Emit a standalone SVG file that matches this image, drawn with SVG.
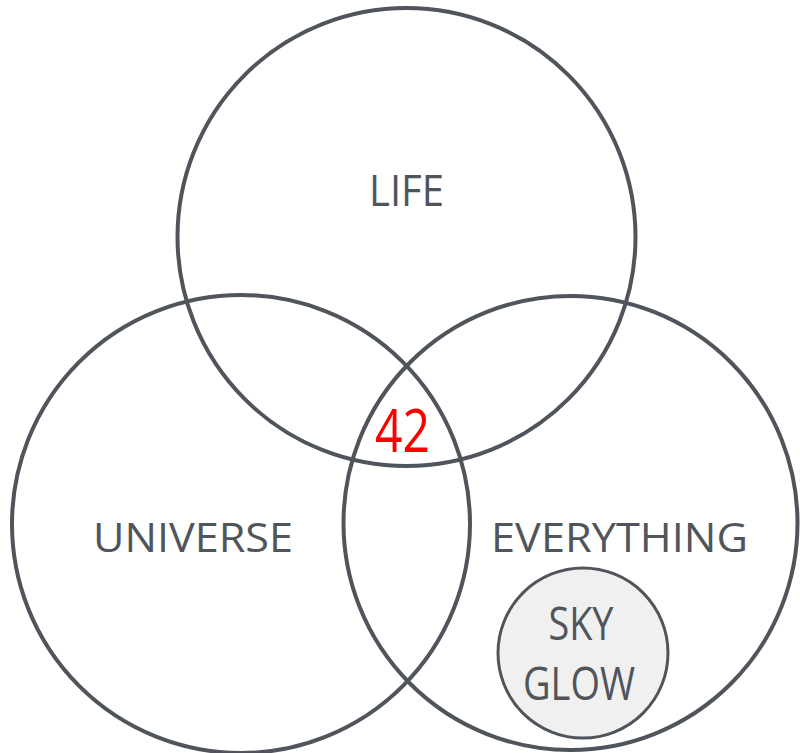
<svg xmlns="http://www.w3.org/2000/svg" width="800" height="753" viewBox="0 0 800 753">
<style>
.set{fill:none;stroke:#50555c;stroke-width:4}
.lbl{font-family:"Open Sans","Liberation Sans",sans-serif;fill:#50555c;text-anchor:middle}
</style>
<rect width="800" height="753" fill="#ffffff"/>
<g id="life"><circle class="set" cx="406.5" cy="237" r="229"/><text class="lbl" x="406.5" y="206" font-size="43" textLength="75" lengthAdjust="spacingAndGlyphs">LIFE</text></g>
<g id="universe"><circle class="set" cx="241" cy="524" r="229"/><text class="lbl" x="193" y="552" font-size="41" textLength="200" lengthAdjust="spacingAndGlyphs">UNIVERSE</text></g>
<g id="everything"><circle class="set" cx="570.5" cy="523" r="227"/><text class="lbl" x="619.5" y="552" font-size="41" textLength="257" lengthAdjust="spacingAndGlyphs">EVERYTHING</text></g>
<g id="skyglow"><circle cx="583" cy="653" r="85" fill="#f0f0f0" stroke="#50555c" stroke-width="3"/><text class="lbl" x="581" y="640" font-size="45" textLength="65" lengthAdjust="spacingAndGlyphs">SKY</text><text class="lbl" x="579" y="700" font-size="45" textLength="112" lengthAdjust="spacingAndGlyphs">GLOW</text></g>
<g id="center"><text x="402.5" y="452" font-family="'Open Sans','Liberation Sans',sans-serif" font-size="60" fill="#ff0000" text-anchor="middle" textLength="55" lengthAdjust="spacingAndGlyphs">42</text></g>
<g id="connectors"/>
</svg>
